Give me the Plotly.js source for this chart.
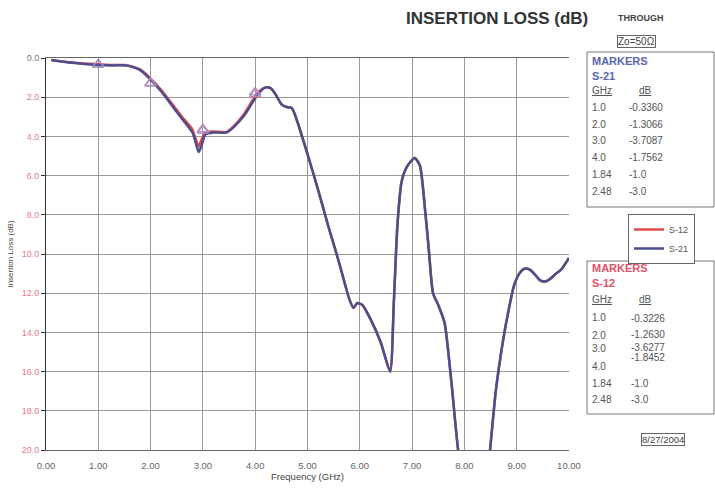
<!DOCTYPE html>
<html>
<head>
<meta charset="utf-8">
<script src="https://cdn.plot.ly/plotly-3.0.1.min.js"></script>
<style>html,body{margin:0;padding:0;background:#fff;}#chart{width:715px;height:491px;}</style>
</head>
<body>
<div id="chart"></div>
<script>
// ---- data ----
const freq = [0.1,0.3,0.6,1.0,1.3,1.5,1.7,1.8,2.0,2.2,2.4,2.6,2.8,2.87,2.92,2.97,3.05,3.2,3.45,3.6,3.8,4.0,4.1,4.2,4.3,4.4,4.5,4.6,4.7,4.8,5.0,5.2,5.4,5.6,5.8,5.88,5.95,6.05,6.2,6.4,6.58,6.65,6.72,6.8,6.9,7.05,7.15,7.25,7.32,7.4,7.5,7.62,7.75,7.88,8.0,8.2,8.4,8.49,8.6,8.74,8.85,8.95,9.05,9.15,9.25,9.35,9.45,9.55,9.65,9.75,9.85,10.0];
const s21 = [0.1,0.18,0.27,0.36,0.38,0.37,0.5,0.62,1.1,1.7,2.4,3.1,3.8,4.4,4.8,4.5,3.9,3.8,3.8,3.5,2.9,2.05,1.7,1.5,1.55,1.9,2.35,2.5,2.55,3.2,4.9,6.7,8.6,10.4,12.3,12.75,12.5,12.6,13.3,14.5,16.0,12.5,8.5,6.3,5.55,5.1,5.5,7.8,9.8,12.0,12.6,13.5,16.5,20.0,22.0,24.0,22.0,20.0,17.0,14.4,12.8,11.6,11.0,10.75,10.8,11.05,11.35,11.4,11.25,11.0,10.8,10.2];
const s12 = [0.1,0.18,0.26,0.32,0.36,0.36,0.48,0.58,1.05,1.62,2.3,3.0,3.65,4.2,4.5,4.2,3.8,3.75,3.78,3.45,2.8,1.95,1.65,1.5,1.55,1.9,2.35,2.5,2.55,3.2,4.9,6.7,8.6,10.4,12.3,12.75,12.5,12.6,13.3,14.5,16.0,12.5,8.5,6.3,5.55,5.1,5.5,7.8,9.8,12.0,12.6,13.5,16.5,20.0,22.0,24.0,22.0,20.0,17.0,14.4,12.8,11.6,11.0,10.75,10.8,11.05,11.35,11.4,11.25,11.0,10.8,10.2];
const markerFreq = [1.0, 2.0, 3.0, 4.0];
const markerS21 = [0.3360, 1.3066, 3.7087, 1.7562];
const markerS12 = [0.3226, 1.2630, 3.6277, 1.8452];
const yTickVals = [0,2,4,6,8,10,12,14,16,18,20];
const yTickText = ['0.0','2.0','4.0','6.0','8.0','10.0','12.0','14.0','16.0','18.0','20.0'];
const tableS21 = [['1.0','-0.3360'],['2.0','-1.3066'],['3.0','-3.7087'],['4.0','-1.7562'],['1.84','-1.0'],['2.48','-3.0']];
const tableS12 = [['1.0','-0.3226'],['2.0','-1.2630'],['3.0','-3.6277'],['4.0','-1.8452'],['1.84','-1.0'],['2.48','-3.0']];

// ---- layout helpers (pixel -> paper) ----
const L = 46, R = 569, T = 58, B = 450;
const px = x => (x - L) / (R - L);
const py = y => (B - y) / (B - T);

const BLUE = '#4e4e8e', RED = '#e04848';
const traces = [
  {x: freq, y: s12, name: 'S-12', mode: 'lines', line: {color: RED, width: 2.5, shape: 'spline', smoothing: 0.6}},
  {x: freq, y: s21, name: 'S-21', mode: 'lines', line: {color: BLUE, width: 2.5, shape: 'spline', smoothing: 0.6}},
  {x: markerFreq, y: markerS12, mode: 'markers', showlegend: false, hoverinfo: 'skip',
   marker: {symbol: 'triangle-up-open', size: 10, color: '#d088a8', line: {width: 1.2}}},
  {x: markerFreq, y: markerS21, mode: 'markers', showlegend: false, hoverinfo: 'skip',
   marker: {symbol: 'triangle-up-open', size: 10, color: '#9a8ac8', line: {width: 1.2}}}
];

const ann = [];
const shapes = [];
const F = 'Arial, Liberation Sans, sans-serif';
function txt(text, x, y, opts) {
  ann.push(Object.assign({text: text, xref: 'paper', yref: 'paper', x: px(x), y: py(y),
    xanchor: 'left', yanchor: 'middle', showarrow: false,
    font: {family: F, size: 10, color: '#555'}}, opts || {}));
}
function box(x0, y0, x1, y1) {
  shapes.push({type: 'rect', xref: 'paper', yref: 'paper', x0: px(x0), x1: px(x1), y0: py(y1), y1: py(y0),
    line: {color: '#777', width: 1}, fillcolor: 'rgba(0,0,0,0)'});
}

// title & labels
txt('<b>INSERTION LOSS (dB)</b>', 497, 18, {xanchor: 'center', font: {family: F, size: 17, color: '#333'}});
txt('<b>THROUGH</b>', 641, 18, {xanchor: 'center', font: {family: F, size: 9, color: '#444'}});
txt('Zo=50Ω', 636, 41, {xanchor: 'center', font: {family: F, size: 10, color: '#444'}, bordercolor: '#666', borderwidth: 1, borderpad: 0});
txt('8/27/2004', 663, 439, {xanchor: 'center', font: {family: F, size: 9.5, color: '#444'}, bordercolor: '#666', borderwidth: 1, borderpad: 0});

// marker table S-21
box(587, 52, 714, 207);
txt('<b>MARKERS</b>', 590, 61, {font: {family: F, size: 11, color: '#5a66b0'}});
txt('<b>S-21</b>', 590, 76, {font: {family: F, size: 11, color: '#5a66b0'}});
txt('<u>GHz</u>', 590, 90);
txt('<u>dB</u>', 645, 90, {xanchor: 'center'});
const rows21 = [107, 124, 140, 157, 174, 191];
tableS21.forEach((r, i) => { txt(r[0], 590, rows21[i]); txt(r[1], 627, rows21[i]); });

// marker table S-12
box(587, 261, 714, 414);
txt('<b>MARKERS</b>', 590, 268, {font: {family: F, size: 11, color: '#e0506a'}});
txt('<b>S-12</b>', 590, 283, {font: {family: F, size: 11, color: '#e0506a'}});
txt('<u>GHz</u>', 590, 299);
txt('<u>dB</u>', 645, 299, {xanchor: 'center'});
const rowsL12 = [317, 335, 348, 366, 383, 399];
const rowsR12 = [318, 334, 347, 357, 383, 399];
tableS12.forEach((r, i) => { txt(r[0], 590, rowsL12[i]); txt(r[1], 629, rowsR12[i]); });

const yTickHtml = yTickText.map((t, i) => i === 0 ? '<span style="color:#777">' + t + '</span>' : t);

const layout = {
  width: 715, height: 491,
  margin: {l: L, r: 715 - R, t: T, b: 491 - B},
  paper_bgcolor: '#fff', plot_bgcolor: '#fff',
  font: {family: F, size: 9, color: '#555'},
  xaxis: {
    range: [0, 10], dtick: 1, tick0: 0, tickformat: '.2f',
    showgrid: true, gridcolor: '#999', gridwidth: 1,
    showline: true, linecolor: '#666', linewidth: 1, mirror: true,
    zeroline: false, ticks: 'outside', ticklen: 7, tickcolor: 'rgba(0,0,0,0)',
    tickfont: {family: F, size: 9.5, color: '#666'},
    title: {text: 'Frequency (GHz)', standoff: 0, font: {family: F, size: 9.5, color: '#444'}}
  },
  yaxis: {
    range: [20, 0], tickmode: 'array', tickvals: yTickVals, ticktext: yTickHtml,
    showgrid: true, gridcolor: '#999', gridwidth: 1,
    showline: true, linecolor: '#333', linewidth: 1, mirror: false,
    zeroline: false, ticks: 'outside', ticklen: 4, tickcolor: '#333',
    tickfont: {family: F, size: 9, color: '#e87a8a'},
    title: {text: 'Insertion Loss (dB)', standoff: 6, font: {family: F, size: 8, color: '#444'}}
  },
  showlegend: true,
  legend: {x: px(628), y: py(214), xanchor: 'left', yanchor: 'top',
    bordercolor: '#666', borderwidth: 1, bgcolor: '#fff',
    font: {family: F, size: 9, color: '#555'}, tracegroupgap: 0, itemwidth: 30},
  annotations: ann, shapes: shapes
};
Plotly.newPlot('chart', traces, layout, {displayModeBar: false, staticPlot: true});
</script>
</body>
</html>
